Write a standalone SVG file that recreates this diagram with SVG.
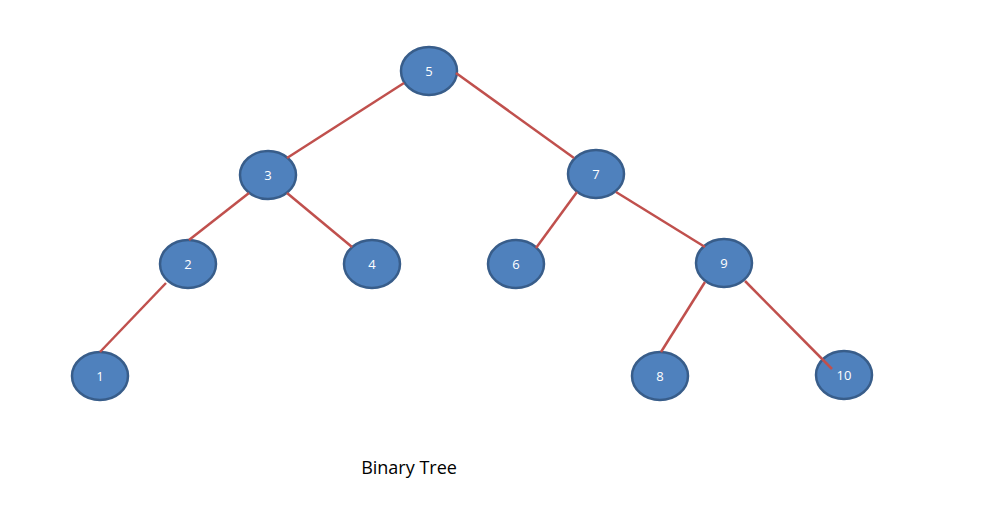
<svg xmlns="http://www.w3.org/2000/svg" width="991" height="517" viewBox="0 0 991 517">
<style>
.n ellipse{fill:#4F81BD;stroke:#385D8A;stroke-width:2.5}
.n text{fill:#fff;font-family:"Open Sans","Liberation Sans",sans-serif;font-size:13px;text-anchor:middle;dominant-baseline:central}
#edges line{stroke:#C0504D;stroke-width:2.5}
</style>
<rect width="991" height="517" fill="#fff"/>
<g class="n" id="n5"><ellipse cx="429" cy="71" rx="28" ry="24"/><text x="429" y="71">5</text></g>
<g class="n" id="n3"><ellipse cx="268" cy="175" rx="28" ry="24"/><text x="268" y="175">3</text></g>
<g class="n" id="n7"><ellipse cx="596" cy="174" rx="28" ry="24"/><text x="596" y="174">7</text></g>
<g class="n" id="n2"><ellipse cx="188" cy="264" rx="28" ry="24"/><text x="188" y="264">2</text></g>
<g class="n" id="n4"><ellipse cx="372" cy="264" rx="28" ry="24"/><text x="372" y="264">4</text></g>
<g class="n" id="n6"><ellipse cx="516" cy="264" rx="28" ry="24"/><text x="516" y="264">6</text></g>
<g class="n" id="n9"><ellipse cx="724" cy="263" rx="28" ry="24"/><text x="724" y="263">9</text></g>
<g class="n" id="n1"><ellipse cx="100" cy="376" rx="28" ry="24"/><text x="100" y="376">1</text></g>
<g class="n" id="n8"><ellipse cx="660" cy="376" rx="28" ry="24"/><text x="660" y="376">8</text></g>
<g class="n" id="n10"><ellipse cx="844" cy="375" rx="28" ry="24"/><text x="844" y="375">10</text></g>
<g id="edges">
<line x1="404" y1="83" x2="287" y2="158"/>
<line x1="456" y1="73" x2="574" y2="158"/>
<line x1="249" y1="193" x2="189" y2="240"/>
<line x1="287" y1="193" x2="352" y2="247"/>
<line x1="577" y1="192" x2="536" y2="248"/>
<line x1="616" y1="192" x2="705" y2="247"/>
<line x1="166" y1="283" x2="100" y2="352"/>
<line x1="705" y1="282" x2="661" y2="352"/>
<line x1="745" y1="281" x2="832" y2="369"/>
</g>
<text x="409" y="467" font-family="'Open Sans','Liberation Sans',sans-serif" font-size="18" text-anchor="middle" dominant-baseline="central" fill="#000">Binary Tree</text>
</svg>
